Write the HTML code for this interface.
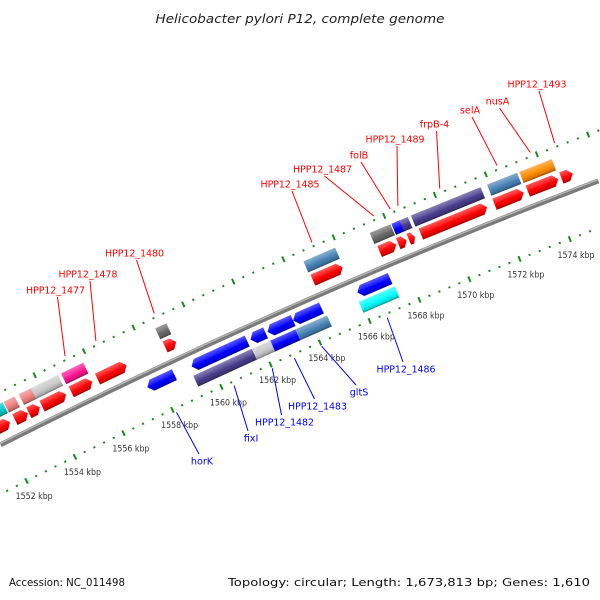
<!DOCTYPE html>
<html><head><meta charset="utf-8"><style>
html,body{margin:0;padding:0;background:#fff;width:600px;height:600px;overflow:hidden;}
svg{display:block;}
</style></head><body>
<svg id="chart" width="600" height="600" viewBox="0 0 600 600" xmlns="http://www.w3.org/2000/svg" style="overflow:hidden">
<defs id="defs"></defs>
<text x="300" y="23" text-anchor="middle" font-family="DejaVu Sans, Liberation Sans, sans-serif" font-style="italic" font-size="12.5" fill="#222" textLength="289" lengthAdjust="spacingAndGlyphs">Helicobacter pylori P12, complete genome</text>
<g id="ticks"></g>
<g id="backbone"></g>
<g id="genes"></g>
<g id="labels"></g>
<text x="9" y="586" font-family="DejaVu Sans, Liberation Sans, sans-serif" font-size="11" fill="#111" textLength="116" lengthAdjust="spacingAndGlyphs">Accession: NC_011498</text>
<text x="590" y="586" text-anchor="end" font-family="DejaVu Sans, Liberation Sans, sans-serif" font-size="11" fill="#111" textLength="362" lengthAdjust="spacingAndGlyphs">Topology: circular; Length: 1,673,813 bp; Genes: 1,610</text>
</svg>
<script>
// ---- data (kbp) ----
const fwdFeatStart = [1550.0, 1552.55, 1553.17, 1553.66, 1554.89, 1558.70, 1564.64, 1567.27, 1568.13, 1568.45, 1568.90, 1571.90, 1573.17];
const fwdFeatEnd   = [1552.51, 1553.00, 1553.70, 1554.77, 1555.79, 1559.15, 1565.90, 1568.09, 1568.50, 1568.78, 1571.65, 1573.08, 1574.44];
const fwdFeatColor = ['#00c8c8','#f08080','#f08080','#c8c8c8','#ff1493','#6a6a6a','#4682b4','#6a6a6a','#0000ff','#483d8b','#483d8b','#4682b4','#ff8c00'];
const fwdCdsStart = [1550.0, 1552.63, 1553.20, 1553.74, 1554.93, 1556.00, 1558.74, 1564.68, 1567.34, 1568.08, 1568.50, 1568.98, 1571.89, 1573.20, 1574.52];
const fwdCdsEnd   = [1552.43, 1553.16, 1553.65, 1554.72, 1555.79, 1557.18, 1559.19, 1565.87, 1568.00, 1568.41, 1568.74, 1571.60, 1573.04, 1574.40, 1574.97];
const revCdsStart = [1557.52, 1559.32, 1561.70, 1562.39, 1563.42, 1566.00];
const revCdsEnd   = [1558.62, 1561.57, 1562.31, 1563.42, 1564.56, 1567.31];
const revFeatStart = [1559.23, 1561.61, 1562.35, 1563.37, 1565.91];
const revFeatEnd   = [1561.61, 1562.35, 1563.37, 1564.64, 1567.35];
const revFeatColor = ['#483d8b','#c8c8c8','#0000ff','#4682b4','#00ffff'];
const fwdLabelText = ['HPP12_1477','HPP12_1478','HPP12_1480','HPP12_1485','HPP12_1487','folB','HPP12_1489','frpB-4','selA','nusA','HPP12_1493'];
const fwdLabelKbp  = [1555.3, 1556.55, 1558.9, 1565.2, 1567.65, 1568.3, 1568.6, 1570.25, 1572.5, 1573.8, 1574.75];
const revLabelText = ['horK','fixI','HPP12_1482','HPP12_1483','gltS','HPP12_1486'];
const revLabelKbp  = [1558.1, 1560.45, 1562.0, 1562.9, 1564.0, 1566.65];
const tickLabelKbp = [1552,1554,1556,1558,1560,1562,1564,1566,1568,1570,1572,1574];

// ---- layout ----
const fwdLabelPos = [[55.5,290],[88,274],[134.5,253],[290,184],[322.5,169],[359,155],[395,139],[434.5,124],[470,110],[497.5,101],[537,84]];
const revLabelPos = [[202,461],[251,438],[284.5,422],[317.5,406],[359,392],[406,369]];
const NS='http://www.w3.org/2000/svg';
const CX=2824, CY=6033, RB=6261, A=0.00435, PHI0=-1.98968;
function pt(k,dr){const p=PHI0+(k-1563)*A, r=RB+dr; return [CX+r*Math.cos(p), CY+r*Math.sin(p)];}
function ang(k){return (PHI0+(k-1563)*A)*180/Math.PI+90;}
function mk(tag,attrs,parent){const e=document.createElementNS(NS,tag);for(const a in attrs)e.setAttribute(a,attrs[a]);parent.appendChild(e);return e;}
const FONT='DejaVu Sans, Liberation Sans, sans-serif';
function mix(hex,t,w){const n=parseInt(hex.slice(1),16);let r=n>>16,g=(n>>8)&255,b=n&255;const m=w?255:0;r=Math.round(r+(m-r)*t);g=Math.round(g+(m-g)*t);b=Math.round(b+(m-b)*t);return 'rgb('+r+','+g+','+b+')';}
function inFrame(p){return p[0]>=0&&p[0]<=600&&p[1]>=0&&p[1]<=600;}
const defs=document.getElementById('defs');
const gradIds={};
function grad(c){
  if(gradIds[c])return gradIds[c];
  const id='g'+Object.keys(gradIds).length;
  const lg=mk('linearGradient',{id:id,x1:0,y1:0,x2:0,y2:1},defs);
  mk('stop',{offset:'0',  'stop-color':mix(c,0.35,true)},lg);
  mk('stop',{offset:'0.4','stop-color':mix(c,0.12,true)},lg);
  mk('stop',{offset:'0.55','stop-color':c},lg);
  mk('stop',{offset:'0.8','stop-color':mix(c,0.12,false)},lg);
  mk('stop',{offset:'1',  'stop-color':mix(c,0.4,false)},lg);
  gradIds[c]=id;return id;
}

// ticks
const tg=document.getElementById('ticks');
for(let i=0;i<=75;i++){
  const k=1549.2+i*0.4, major=(i%5===2);
  [47,-44].forEach(dr=>{
    const len=major?3:1;
    const p1=pt(k,dr-len), p2=pt(k,dr+len);
    if(!inFrame(p1)||!inFrame(p2))return;
    const t=mk('line',{x1:p1[0],y1:p1[1],x2:p2[0],y2:p2[1],stroke:'#1a8a1a','stroke-width':2},tg);
    
    
  });
}
tickLabelKbp.forEach(k=>{
  const p=pt(k,-61);
  const t=mk('text',{x:p[0],y:p[1]+3,'text-anchor':'middle','font-family':FONT,'font-size':8.5,fill:'#333',textLength:37,lengthAdjust:'spacingAndGlyphs'},tg);
  t.textContent=k+' kbp';
  
  
});

// backbone
const bg=document.getElementById('backbone');
function arc(dr){let d='';for(let k=1549;k<=1578;k+=0.25){const p=pt(k,dr);if(p[0]<-3||p[0]>603)continue;d+=(d?'L':'M')+p[0].toFixed(2)+','+p[1].toFixed(2);}return d;}
const b1=mk('path',{d:arc(0),fill:'none',stroke:'#7a7a7a','stroke-width':5},bg);


mk('path',{d:arc(1.3),fill:'none',stroke:'#b4b4b4','stroke-width':1.5},bg);

// genes
const gg=document.getElementById('genes');
function gene(s,e,dr,color,shape,name){
  const mid=(s+e)/2, p=pt(mid,dr), L=(e-s)*A*(RB+dr), h=12, hh=h/2;
  const g=mk('g',{transform:'translate('+p[0].toFixed(2)+','+p[1].toFixed(2)+') rotate('+ang(mid).toFixed(3)+')'},gg);
  
  
  const head=Math.min(5,L*0.45), x0=-L/2, x1=L/2;
  let pts;
  if(shape==='fwd') pts=[[x0,-hh],[x1-head,-hh],[x1,0],[x1-head,hh],[x0,hh]];
  else if(shape==='rev') pts=[[x1,-hh],[x0+head,-hh],[x0,0],[x0+head,hh],[x1,hh]];
  else pts=[[x0,-hh],[x1,-hh],[x1,hh],[x0,hh]];
  mk('polygon',{points:pts.map(q=>q[0].toFixed(2)+','+q[1].toFixed(2)).join(' '),fill:'url(#'+grad(color)+')'},g);
}
fwdFeatStart.forEach((s,i)=>gene(s,fwdFeatEnd[i],31,fwdFeatColor[i],'box','forward-feature'));
fwdCdsStart.forEach((s,i)=>gene(s,fwdCdsEnd[i],16,'#ff0000','fwd','forward-cds'));
revCdsStart.forEach((s,i)=>gene(s,revCdsEnd[i],-13,'#0000ff','rev','reverse-cds'));
revFeatStart.forEach((s,i)=>gene(s,revFeatEnd[i],-28,revFeatColor[i],'box','reverse-feature'));

// labels
const lg=document.getElementById('labels');
function label(txt,k,pos,dr,col,fwd){
  const p=pt(k,dr);
  const ex=fwd?pos[0]+2:pos[0]-3, ey=fwd?pos[1]+7:pos[1]-7;
  const l=mk('line',{x1:p[0],y1:p[1],x2:ex,y2:ey,stroke:col,'stroke-width':1},lg);
  
  
  const t=mk('text',{x:pos[0],y:pos[1]+3.5,'text-anchor':'middle','font-family':FONT,'font-size':9.6,fill:col},lg);
  if(txt.length>=10){t.setAttribute('textLength',59);t.setAttribute('lengthAdjust','spacingAndGlyphs');}
  t.textContent=txt;
  
  
}
fwdLabelText.forEach((t,i)=>label(t,fwdLabelKbp[i],fwdLabelPos[i],51,'#ff0000',true));
revLabelText.forEach((t,i)=>label(t,revLabelKbp[i],revLabelPos[i],-48,'#0000ff',false));
</script>
</body></html>
